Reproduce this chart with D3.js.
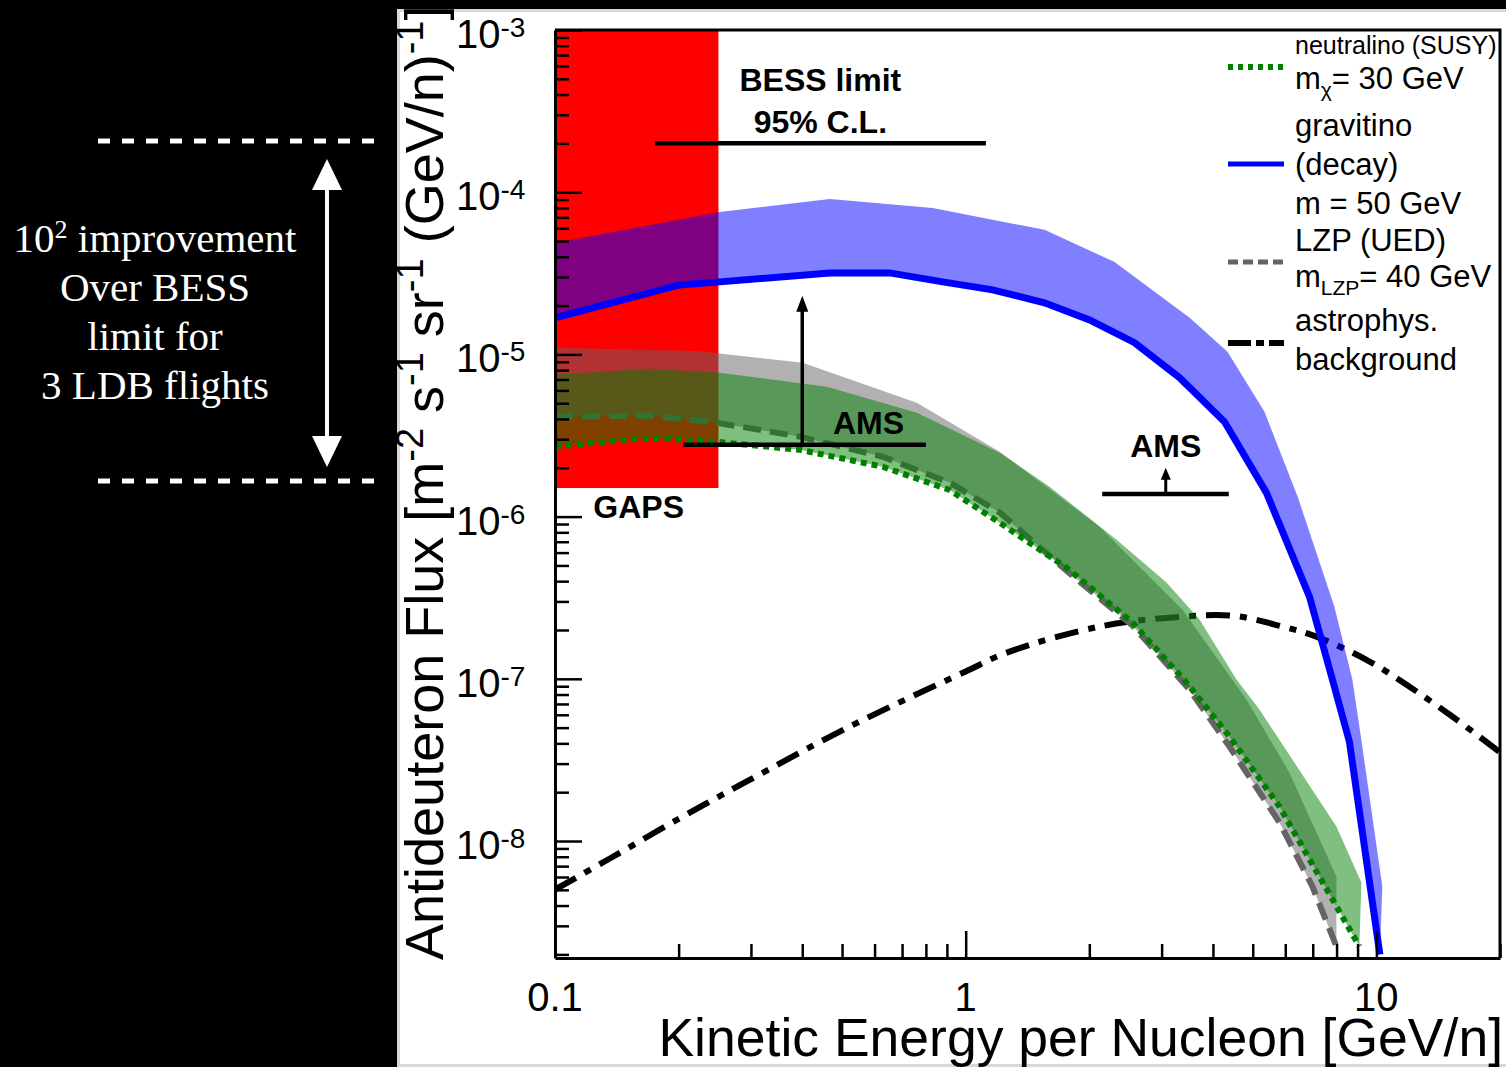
<!DOCTYPE html>
<html>
<head>
<meta charset="utf-8">
<script src="https://cdn.jsdelivr.net/npm/d3@7"></script>
<style>
body { margin: 0; background: #000; }
svg { display: block; font-family: "Liberation Sans", Arial, sans-serif; }
</style>
</head>
<body>
<div id="chart-area"></div>
<script>

// Data (energy in GeV/n, flux in m^-2 s^-1 sr^-1 (GeV/n)^-1)
var energyGravitinoHi = [0.1, 0.252, 0.467, 0.831, 1.556, 2.30, 3.51, 4.34, 5.34, 6.43, 7.90, 8.74, 9.19, 10.34];
var fluxGravitinoHi   = [4.87e-5, 7.56e-5, 9.09e-5, 8.00e-5, 5.86e-5, 3.72e-5, 1.68e-5, 1.04e-5, 4.43e-6, 1.33e-6, 2.79e-7, 9.89e-8, 4.22e-8, 5.24e-9];
var energyGravitinoLo = [0.1, 0.201, 0.252, 0.467, 0.653, 0.879, 1.163, 1.556, 2.003, 2.577, 3.317, 4.268, 5.401, 6.871, 7.816, 8.596, 10.2];
var fluxGravitinoLo   = [1.68e-5, 2.68e-5, 2.80e-5, 3.18e-5, 3.18e-5, 2.80e-5, 2.50e-5, 2.08e-5, 1.63e-5, 1.18e-5, 7.18e-6, 3.84e-6, 1.40e-6, 3.21e-7, 9.89e-8, 4.10e-8, 2.0e-9];

var energyLzpHi = [0.1, 0.222, 0.401, 0.760, 1.210, 2.118, 3.373, 4.829, 6.142, 7.993];
var fluxLzpHi   = [1.10e-5, 1.05e-5, 8.88e-6, 5.03e-6, 2.51e-6, 8.67e-7, 2.67e-7, 7.44e-8, 2.64e-8, 6.04e-9];
var energyLzpLo = [0.1, 0.170, 0.248, 0.395, 0.628, 0.914, 1.210, 1.761, 2.548, 3.508, 4.388, 5.808, 6.987, 7.993];
var fluxLzpLo   = [4.13e-6, 4.19e-6, 3.79e-6, 3.11e-6, 2.34e-6, 1.62e-6, 1.06e-6, 4.64e-7, 2.13e-7, 8.58e-8, 3.82e-8, 1.30e-8, 5.24e-9, 2.24e-9];

var energyNeutHi = [0.1, 0.170, 0.252, 0.459, 0.760, 1.210, 1.601, 2.330, 3.083, 3.709, 4.563, 5.192, 7.993, 9.194];
var fluxNeutHi   = [7.49e-6, 8.15e-6, 7.70e-6, 6.32e-6, 4.37e-6, 2.48e-6, 1.53e-6, 7.21e-7, 3.92e-7, 2.32e-7, 9.89e-8, 6.46e-8, 1.23e-8, 5.55e-9];
var energyNeutLo = [0.1, 0.170, 0.248, 0.395, 0.628, 0.914, 1.210, 1.761, 2.548, 3.449, 4.388, 5.808, 7.265, 9.09];
var fluxNeutLo   = [2.70e-6, 3.06e-6, 2.89e-6, 2.58e-6, 2.03e-6, 1.46e-6, 9.17e-7, 4.84e-7, 2.22e-7, 9.48e-8, 4.40e-8, 1.63e-8, 6.04e-9, 2.24e-9];

var energyBkg = [0.1, 0.136, 0.201, 0.293, 0.522, 1.0, 1.26, 2.12, 3.32, 4.47, 5.90, 7.14, 9.46, 11.4, 15.1, 19.9];
var fluxBkg   = [5.02e-9, 7.8e-9, 1.38e-8, 2.33e-8, 5.08e-8, 1.11e-7, 1.45e-7, 2.10e-7, 2.41e-7, 2.45e-7, 2.10e-7, 1.82e-7, 1.31e-7, 9.8e-8, 6.0e-8, 3.56e-8];

// Limits
var gapsEnergy = [0.1, 0.25];
var gapsFlux = [1.5e-6, 1e-3];
var bessEnergy = [0.175, 1.12];
var bessFlux = 2e-4;
var amsLowEnergy = [0.205, 0.8];
var amsLowFlux = 2.77e-6;
var amsLowArrow = [0.4, 2.3e-5];
var amsHighEnergy = [2.15, 4.37];
var amsHighFlux = 1.38e-6;
var amsHighArrow = [3.07, 2.0e-6];

// Ticks
var yDecades = [-3, -4, -5, -6, -7, -8];
var xTickLabels = [[0.1, "0.1"], [1, "1"], [10, "10"]];

var W = 1506, H = 1067;

var svg = d3.select("#chart-area")
    .append("svg")
        .attr("width", W)
        .attr("height", H);

svg.append("rect")
    .attr("width", W).attr("height", H)
    .attr("fill", "#000");

svg.append("rect")
    .attr("x", 398.5).attr("y", 10.5)
    .attr("width", 1110).attr("height", 1055)
    .attr("fill", "#fff")
    .attr("stroke", "#d8d8d8")
    .attr("stroke-width", 3);

// Scales
var x = d3.scaleLog().domain([0.1, 20]).range([555, 1500]);
var y = d3.scaleLog().domain([1.9e-9, 1e-3]).range([958, 30]);

svg.append("defs").append("clipPath")
    .attr("id", "plot-clip")
    .append("rect")
        .attr("x", 555).attr("y", 30)
        .attr("width", 945).attr("height", 928);

var plot = svg.append("g").attr("clip-path", "url(#plot-clip)");

var pts = function(es, fs){
    return es.map(function(e, i){ return [x(e), y(fs[i])]; });
};
var band = function(eHi, fHi, eLo, fLo){
    return d3.line()(pts(eHi, fHi).concat(pts(eLo, fLo).reverse())) + "Z";
};

// GAPS box
plot.append("rect")
    .attr("x", x(gapsEnergy[0]))
    .attr("y", y(gapsFlux[1]))
    .attr("width", x(gapsEnergy[1]) - x(gapsEnergy[0]))
    .attr("height", y(gapsFlux[0]) - y(gapsFlux[1]))
    .attr("fill", "#ff0000");

// astrophysical background
plot.append("path")
    .attr("d", d3.line().curve(d3.curveCatmullRom.alpha(0.5))(pts(energyBkg, fluxBkg)))
    .attr("fill", "none")
    .attr("stroke", "#000")
    .attr("stroke-width", 6)
    .attr("stroke-dasharray", "24,10,7,10");

// LZP band
plot.append("path")
    .attr("d", band(energyLzpHi, fluxLzpHi, energyLzpLo, fluxLzpLo))
    .attr("fill", "rgba(100,100,100,0.5)");
plot.append("path")
    .attr("d", d3.line()(pts(energyLzpLo, fluxLzpLo)))
    .attr("fill", "none")
    .attr("stroke", "#646464")
    .attr("stroke-width", 6)
    .attr("stroke-dasharray", "18,9");

// neutralino band
plot.append("path")
    .attr("d", band(energyNeutHi, fluxNeutHi, energyNeutLo, fluxNeutLo))
    .attr("fill", "rgba(0,128,0,0.5)");
plot.append("path")
    .attr("d", d3.line()(pts(energyNeutLo, fluxNeutLo)))
    .attr("fill", "none")
    .attr("stroke", "#008000")
    .attr("stroke-width", 6)
    .attr("stroke-dasharray", "6,5");

// gravitino band
plot.append("path")
    .attr("d", band(energyGravitinoHi, fluxGravitinoHi, energyGravitinoLo, fluxGravitinoLo))
    .attr("fill", "rgba(0,0,255,0.5)");
plot.append("path")
    .attr("d", d3.line()(pts(energyGravitinoLo, fluxGravitinoLo)))
    .attr("fill", "none")
    .attr("stroke", "#0000ff")
    .attr("stroke-width", 7);

// Y Axis
var yAxisCall = d3.axisRight(y)
    .tickSizeInner(14)
    .tickSizeOuter(0)
    .tickFormat("");
var yAxis = svg.append("g")
    .attr("class", "y axis")
    .attr("transform", "translate(" + x(0.1) + ",0)")
    .call(yAxisCall);

// X Axis
var xAxisCall = d3.axisBottom(x)
    .tickSizeInner(-14)
    .tickSizeOuter(0)
    .tickFormat("");
var xAxis = svg.append("g")
    .attr("class", "x axis")
    .attr("transform", "translate(0," + y(1.9e-9) + ")")
    .call(xAxisCall);

var isDecade = function(d){
    var l = Math.log10(d);
    return Math.abs(l - Math.round(l)) < 1e-6;
};
yAxis.selectAll(".tick line")
    .attr("x2", function(d){ return isDecade(d) ? 27 : 14; });
xAxis.selectAll(".tick line")
    .attr("y2", function(d){ return isDecade(d) ? -27 : -14; });
svg.selectAll(".axis .domain").attr("stroke-width", 3);
svg.selectAll(".axis .tick line").attr("stroke-width", 2.5);

// frame top and right
svg.append("path")
    .attr("d", "M" + x(0.1) + "," + y(1e-3) + "H" + x(20) + "V" + y(1.9e-9))
    .attr("fill", "none")
    .attr("stroke", "#000")
    .attr("stroke-width", 3);

// Tick labels
yDecades.forEach(function(p){
    var t = svg.append("text")
        .attr("x", 456)
        .attr("y", y(Math.pow(10, p)) + 18)
        .attr("fill", "#000");
    t.append("tspan").attr("font-size", "40px").text("10");
    t.append("tspan").attr("font-size", "28px").attr("dy", -11).text(String(p));
});
xTickLabels.forEach(function(d){
    svg.append("text")
        .attr("x", x(d[0]))
        .attr("y", 1011)
        .attr("text-anchor", "middle")
        .attr("font-size", "40px")
        .text(d[1]);
});

// Axis titles
svg.append("text")
    .attr("x", 1503)
    .attr("y", 1056)
    .attr("text-anchor", "end")
    .attr("font-size", "53.5px")
    .text("Kinetic Energy per Nucleon [GeV/n]");

var yLabel = svg.append("text")
    .attr("transform", "translate(443,960) rotate(-90)")
    .attr("font-size", "54px");
var yParts = [["Antideuteron Flux [m", 0], ["-2", 1], [" s", 0], ["-1", 1], [" sr", 0], ["-1", 1], [" (GeV/n)", 0], ["-1", 1], ["]", 0]];
var raised = false;
yParts.forEach(function(p){
    var ts = yLabel.append("tspan").text(p[0]);
    if (p[1] === 1) {
        ts.attr("font-size", "38px").attr("dy", -20);
        raised = true;
    } else if (raised) {
        ts.attr("dy", 20);
        raised = false;
    }
});

// Limits: BESS, AMS
svg.append("line")
    .attr("x1", x(bessEnergy[0])).attr("x2", x(bessEnergy[1]))
    .attr("y1", y(bessFlux)).attr("y2", y(bessFlux))
    .attr("stroke", "#000").attr("stroke-width", 4.5);

var bessMid = Math.sqrt(bessEnergy[0] * bessEnergy[1]);
svg.append("text")
    .attr("x", x(bessMid)).attr("y", y(bessFlux) - 52)
    .attr("text-anchor", "middle")
    .attr("font-size", "32px").attr("font-weight", "bold")
    .text("BESS limit");
svg.append("text")
    .attr("x", x(bessMid)).attr("y", y(bessFlux) - 10)
    .attr("text-anchor", "middle")
    .attr("font-size", "32px").attr("font-weight", "bold")
    .text("95% C.L.");

var drawArrow = function(xp, y0, y1, headW, headL, lw){
    svg.append("line")
        .attr("x1", xp).attr("x2", xp)
        .attr("y1", y0).attr("y2", y1 + headL - 1)
        .attr("stroke", "#000").attr("stroke-width", lw);
    svg.append("path")
        .attr("d", "M" + xp + "," + y1 + "L" + (xp - headW / 2) + "," + (y1 + headL) +
            "L" + (xp + headW / 2) + "," + (y1 + headL) + "Z")
        .attr("fill", "#000");
};

svg.append("line")
    .attr("x1", x(amsLowEnergy[0])).attr("x2", x(amsLowEnergy[1]))
    .attr("y1", y(amsLowFlux)).attr("y2", y(amsLowFlux))
    .attr("stroke", "#000").attr("stroke-width", 4.5);
drawArrow(x(amsLowArrow[0]), y(amsLowFlux), y(amsLowArrow[1]), 12, 16, 3.5);
svg.append("text")
    .attr("x", x(0.58)).attr("y", y(amsLowFlux) - 11)
    .attr("text-anchor", "middle")
    .attr("font-size", "32px").attr("font-weight", "bold")
    .text("AMS");

svg.append("line")
    .attr("x1", x(amsHighEnergy[0])).attr("x2", x(amsHighEnergy[1]))
    .attr("y1", y(amsHighFlux)).attr("y2", y(amsHighFlux))
    .attr("stroke", "#000").attr("stroke-width", 4.5);
drawArrow(x(amsHighArrow[0]), y(amsHighFlux), y(amsHighArrow[1]), 10, 12, 3);
svg.append("text")
    .attr("x", x(amsHighArrow[0])).attr("y", y(amsHighFlux) - 37)
    .attr("text-anchor", "middle")
    .attr("font-size", "32px").attr("font-weight", "bold")
    .text("AMS");

svg.append("text")
    .attr("x", x(Math.sqrt(gapsEnergy[0] * gapsEnergy[1])) + 2).attr("y", y(gapsFlux[0]) + 30)
    .attr("text-anchor", "middle")
    .attr("font-size", "32px").attr("font-weight", "bold")
    .text("GAPS");

// Legend
var legend = svg.append("g");
var legendLines = [
    {y: 67, stroke: "#008000", dash: "5,5", w: 6},
    {y: 164, stroke: "#0000ff", dash: null, w: 5},
    {y: 262, stroke: "#646464", dash: "10,5", w: 5},
    {y: 343, stroke: "#000", dash: "23,5,8,5", w: 6}
];
legendLines.forEach(function(l){
    legend.append("line")
        .attr("x1", 1228).attr("x2", 1284)
        .attr("y1", l.y).attr("y2", l.y)
        .attr("stroke", l.stroke)
        .attr("stroke-width", l.w)
        .attr("stroke-dasharray", l.dash);
});

var legendText = function(yb, size, parts){
    var t = legend.append("text")
        .attr("x", 1295).attr("y", yb)
        .attr("font-size", size + "px");
    parts.forEach(function(p){
        if (p.sub) {
            t.append("tspan").attr("font-size", "21px").attr("dy", 8).text(p.text);
        } else {
            t.append("tspan").attr("dy", p.back ? -8 : 0).text(p.text);
        }
    });
};
legendText(54, 25, [{text: "neutralino (SUSY)"}]);
legendText(89, 31, [{text: "m"}, {text: "χ", sub: true}, {text: "= 30 GeV", back: true}]);
legendText(136, 31, [{text: "gravitino"}]);
legendText(175, 31, [{text: "(decay)"}]);
legendText(214, 31, [{text: "m = 50 GeV"}]);
legendText(251, 31, [{text: "LZP (UED)"}]);
legendText(287, 31, [{text: "m"}, {text: "LZP", sub: true}, {text: "= 40 GeV", back: true}]);
legendText(331, 31, [{text: "astrophys."}]);
legendText(370, 31, [{text: "background"}]);

// Left panel: improvement annotation
var side = svg.append("g");
[141, 481].forEach(function(yy){
    side.append("line")
        .attr("x1", 98).attr("x2", 378)
        .attr("y1", yy).attr("y2", yy)
        .attr("stroke", "#fff")
        .attr("stroke-width", 5)
        .attr("stroke-dasharray", "12,12");
});
side.append("line")
    .attr("x1", 327).attr("x2", 327)
    .attr("y1", 185).attr("y2", 440)
    .attr("stroke", "#fff").attr("stroke-width", 4);
side.append("path")
    .attr("d", "M327,159L312,190L342,190Z")
    .attr("fill", "#fff");
side.append("path")
    .attr("d", "M327,467L312,436L342,436Z")
    .attr("fill", "#fff");

var sideLines = ["improvement", "Over BESS", "limit for", "3 LDB flights"];
sideLines.forEach(function(s, i){
    var t = side.append("text")
        .attr("x", 155)
        .attr("y", 252 + i * 49)
        .attr("text-anchor", "middle")
        .attr("fill", "#fff")
        .attr("font-family", "'Liberation Serif', 'Times New Roman', serif")
        .attr("font-size", "41px");
    if (i === 0) {
        t.append("tspan").text("10");
        t.append("tspan").attr("font-size", "26px").attr("dy", -14).text("2");
        t.append("tspan").attr("dy", 14).text(" " + s);
    } else {
        t.text(s);
    }
});

</script>
</body>
</html>
